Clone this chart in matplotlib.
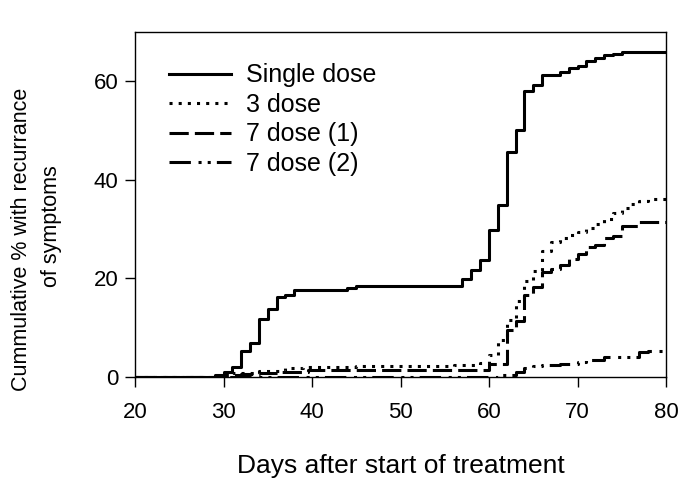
import matplotlib
matplotlib.use("Agg")
import matplotlib.pyplot as plt

plt.rcParams['font.family'] = ['Liberation Sans', 'DejaVu Sans']

# Kaplan-Meier style cumulative curves (day, cumulative %)
single_days = [20, 29, 30, 31, 32, 33, 34, 35, 36, 37, 38, 44, 45, 57, 58, 59, 60, 61, 62, 63,
               64, 65, 66, 68, 69, 70, 71, 72, 73, 74, 75, 80]
single_vals = [0, 0.4, 1.0, 2.1, 5.2, 6.8, 11.7, 13.8, 16.2, 16.7, 17.7, 18.1, 18.4, 19.9, 21.7,
               23.7, 29.8, 34.9, 45.7, 50.1, 58.0, 59.2, 61.2, 61.9, 62.6, 63.2, 64.2, 64.8, 65.4,
               65.6, 65.9, 65.9]

three_days = [20, 30, 31, 34, 37, 39, 45, 56, 59, 60, 61, 62, 63, 64, 65, 66, 67, 68, 69, 70,
              71, 72, 73, 74, 75, 76, 77, 78, 80]
three_vals = [0, 0.4, 0.9, 1.3, 1.75, 2.1, 2.3, 2.5, 2.9, 4.4, 7.5, 11.5, 15.5, 19.5, 21.5, 25.5,
              27.3, 28.2, 28.8, 29.4, 30.2, 31.0, 32.1, 33.2, 34.2, 35.2, 35.7, 36.1, 36.1]

seven1_days = [20, 30, 32, 34, 36.5, 39.5, 60, 62, 63, 64, 65, 66, 67, 68, 69, 70, 71, 72, 73,
               74, 75, 77, 80]
seven1_vals = [0, 0.4, 0.7, 0.9, 1.1, 1.5, 2.6, 9.5, 11.3, 16.6, 18.2, 21.4, 22.0, 22.8, 24.0,
               25.0, 26.3, 26.8, 28.2, 28.6, 30.7, 31.5, 31.5]

seven2_days = [20, 61, 63, 64, 65, 66, 68, 70, 71, 73, 77, 78, 80]
seven2_vals = [0, 0.4, 1.1, 1.8, 2.2, 2.5, 2.7, 3.0, 3.4, 4.1, 5.0, 5.3, 5.3]

labels = ["Single dose", "3 dose", "7 dose (1)", "7 dose (2)"]
x_ticks = [20, 30, 40, 50, 60, 70, 80]
y_ticks = [0, 20, 40, 60]
x_title = "Days after start of treatment"
y_title_lines = ["Cummulative % with recurrance", "of symptoms"]

W, H = 685, 484
fig = plt.figure(figsize=(W / 100, H / 100), dpi=100)
ax = fig.add_axes([135 / W, 1 - 377 / H, (666 - 135) / W, (377 - 32) / H])

lw = 2.2
ax.step(single_days, single_vals, where='post', color='black', lw=lw, linestyle='-', label=labels[0])
ax.step(three_days, three_vals, where='post', color='black', lw=lw, linestyle=(0, (1, 2.0)), label=labels[1])
ax.step(seven1_days, seven1_vals, where='post', color='black', lw=lw, linestyle=(0, (6.3, 2.0)), label=labels[2])
ax.step(seven2_days, seven2_vals, where='post', color='black', lw=lw,
        linestyle=(0, (7, 2.5, 1, 2, 1, 2)), label=labels[3])

ax.set_xlim(20, 80)
ax.set_ylim(0, 70)
ax.set_xticks(x_ticks)
ax.set_yticks(y_ticks)
ax.tick_params(direction='out', length=7, width=1, labelsize=16)
ax.tick_params(axis='x', pad=11)
ax.tick_params(axis='y', pad=5)
for s in ax.spines.values():
    s.set_linewidth(1)

fig.text(400.5 / W, 1 - 466 / H, x_title, fontsize=19, ha='center', va='center')
fig.text(22 / W, 1 - 239 / H, y_title_lines[0], fontsize=15.5, rotation=90, ha='center', va='center')
fig.text(52 / W, 1 - 226 / H, y_title_lines[1], fontsize=15.5, rotation=90, ha='center', va='center')

leg = ax.legend(loc='upper left', bbox_to_anchor=(0.064, 0.909), frameon=False, fontsize=18,
                handlelength=2.5, handletextpad=0.6, labelspacing=0.22, borderaxespad=0,
                borderpad=0)

fig.savefig("out.png", dpi=100)
